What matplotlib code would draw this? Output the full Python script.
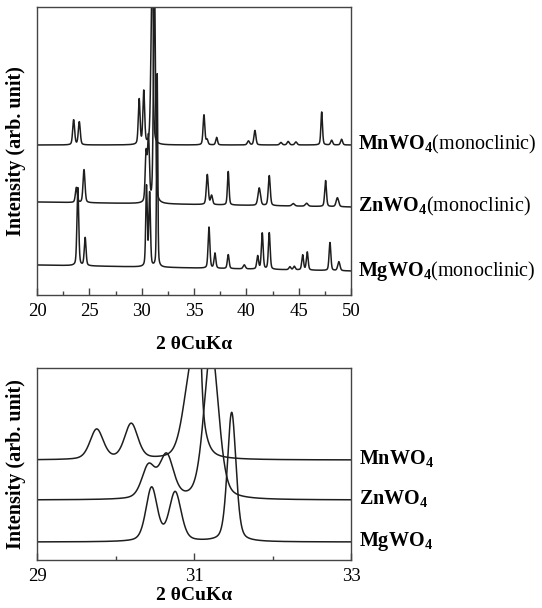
import numpy as np
import matplotlib.pyplot as plt
from matplotlib import transforms

plt.rcParams['font.family'] = ['Liberation Serif', 'DejaVu Serif']
plt.rcParams['mathtext.fontset'] = 'custom'
plt.rcParams['mathtext.rm'] = 'Liberation Serif'
plt.rcParams['mathtext.bf'] = 'Liberation Serif:bold'

# peak tables: 2theta (deg), height above baseline, FWHM (deg)
mn_pos = [23.50, 24.04, 29.76, 30.20, 30.97, 31.04, 35.95, 36.25, 37.16, 40.20,
          40.82, 43.30, 44.00, 44.74, 47.20, 48.15, 49.10]
mn_hgt = [25, 23, 45, 53, 130, 260, 30, 5, 7.5, 4, 14.5, 2.5, 3.5, 3, 33, 4.7, 5.7]
mn_fwhm = [0.22, 0.22, 0.20, 0.20, 0.24, 0.08, 0.20, 0.20, 0.20, 0.25, 0.22,
           0.25, 0.25, 0.25, 0.18, 0.22, 0.22]

zn_pos = [23.76, 24.49, 30.42, 30.65, 31.22, 36.27, 36.68, 38.27, 41.23, 42.19,
          44.48, 45.76, 47.57, 48.70]
zn_hgt = [15, 33, 48, 64, 225, 30, 9, 33.5, 17.5, 30, 2.5, 3, 26, 9]
zn_fwhm = [0.22, 0.22, 0.20, 0.21, 0.22, 0.22, 0.22, 0.18, 0.28, 0.22, 0.30,
           0.30, 0.20, 0.28]

mg_pos = [23.90, 24.60, 30.46, 30.76, 31.48, 36.43, 37.00, 38.27, 39.80, 41.08,
          41.52, 42.19, 44.16, 44.58, 45.38, 45.82, 47.99, 48.84]
mg_hgt = [78, 28, 80, 73, 193, 41, 15, 14, 4, 13, 36, 36.5, 3, 3.5, 15, 18, 28, 9]
mg_fwhm = [0.20, 0.20, 0.17, 0.18, 0.13, 0.20, 0.20, 0.20, 0.25, 0.20, 0.20,
           0.20, 0.22, 0.22, 0.20, 0.20, 0.20, 0.25]

names = ['MnWO_4', 'ZnWO_4', 'MgWO_4']
# stacking offsets (baseline at 20 deg and at 50 deg) for the wide scan
top_base = [(150, 150), (93, 88), (30, 24)]
# offsets and scale for the 29-33 deg zoom
zoom_base = [100, 60, 18]
zoom_scale = 0.67

tables = [(mn_pos, mn_hgt, mn_fwhm), (zn_pos, zn_hgt, zn_fwhm), (mg_pos, mg_hgt, mg_fwhm)]


def pattern(x, pos, hgt, fwhm, eta=0.35):
    y = np.zeros_like(x)
    for p, h, w in zip(pos, hgt, fwhm):
        d = (x - p) / w
        y += h * (eta / (1 + 4 * d**2) + (1 - eta) * np.exp(-4 * np.log(2) * d**2))
    return y


fig = plt.figure(figsize=(5.42, 6.08), dpi=100)
ax1 = fig.add_axes([0.0683, 0.5148, 0.5793, 0.4737])
ax2 = fig.add_axes([0.0683, 0.0789, 0.5793, 0.3158])

lc = '#1e1e1e'

x1 = np.arange(20, 50.001, 0.01)
for (pos, hgt, fwhm), (b0, b1) in zip(tables, top_base):
    base = np.linspace(b0, b1, len(x1))
    ax1.plot(x1, base + pattern(x1, pos, hgt, fwhm), color=lc, lw=1.1)

x2 = np.arange(29, 33.001, 0.002)
for (pos, hgt, fwhm), b in zip(tables, zoom_base):
    ax2.plot(x2, b + zoom_scale * pattern(x2, pos, hgt, fwhm), color=lc, lw=1.1)

ax1.set_xlim(20, 50)
ax1.set_ylim(0, 288)
ax1.set_xticks(np.arange(20, 51, 5))
ax1.set_xticks(np.arange(22.5, 50, 5), minor=True)

ax2.set_xlim(29, 33)
ax2.set_ylim(0, 192)
ax2.set_xticks([29, 31, 33])
ax2.set_xticks([30, 32], minor=True)

for ax, lp in ((ax1, 11), (ax2, 1.5)):
    ax.set_yticks([])
    ax.tick_params(axis='x', which='major', direction='in', length=5, width=1,
                   labelsize=13.5, pad=6, color='#444444')
    ax.tick_params(axis='x', which='minor', direction='in', length=3, width=1,
                   color='#444444')
    for s in ax.spines.values():
        s.set_color('#444444')
        s.set_linewidth(1.0)
    ax.set_xlabel('2 θCuKα', fontsize=14, fontweight='bold', labelpad=lp)
    ax.set_ylabel('Intensity (arb. unit)', fontsize=14.5, fontweight='bold', labelpad=8)

tr1 = transforms.blended_transform_factory(ax1.transAxes, ax1.transData)
for n, (b0, b1) in zip(names, top_base):
    ax1.text(1.022, b1 + 4, r'$\mathbf{%s}$(monoclinic)' % n, transform=tr1,
             fontsize=14.5, va='center_baseline', ha='left')

tr2 = transforms.blended_transform_factory(ax2.transAxes, ax2.transData)
for n, b in zip(names, zoom_base):
    ax2.text(1.025, b + 4, r'$\mathbf{%s}$' % n, transform=tr2,
             fontsize=14.5, va='center_baseline', ha='left')

fig.savefig('out.png', dpi=100)
